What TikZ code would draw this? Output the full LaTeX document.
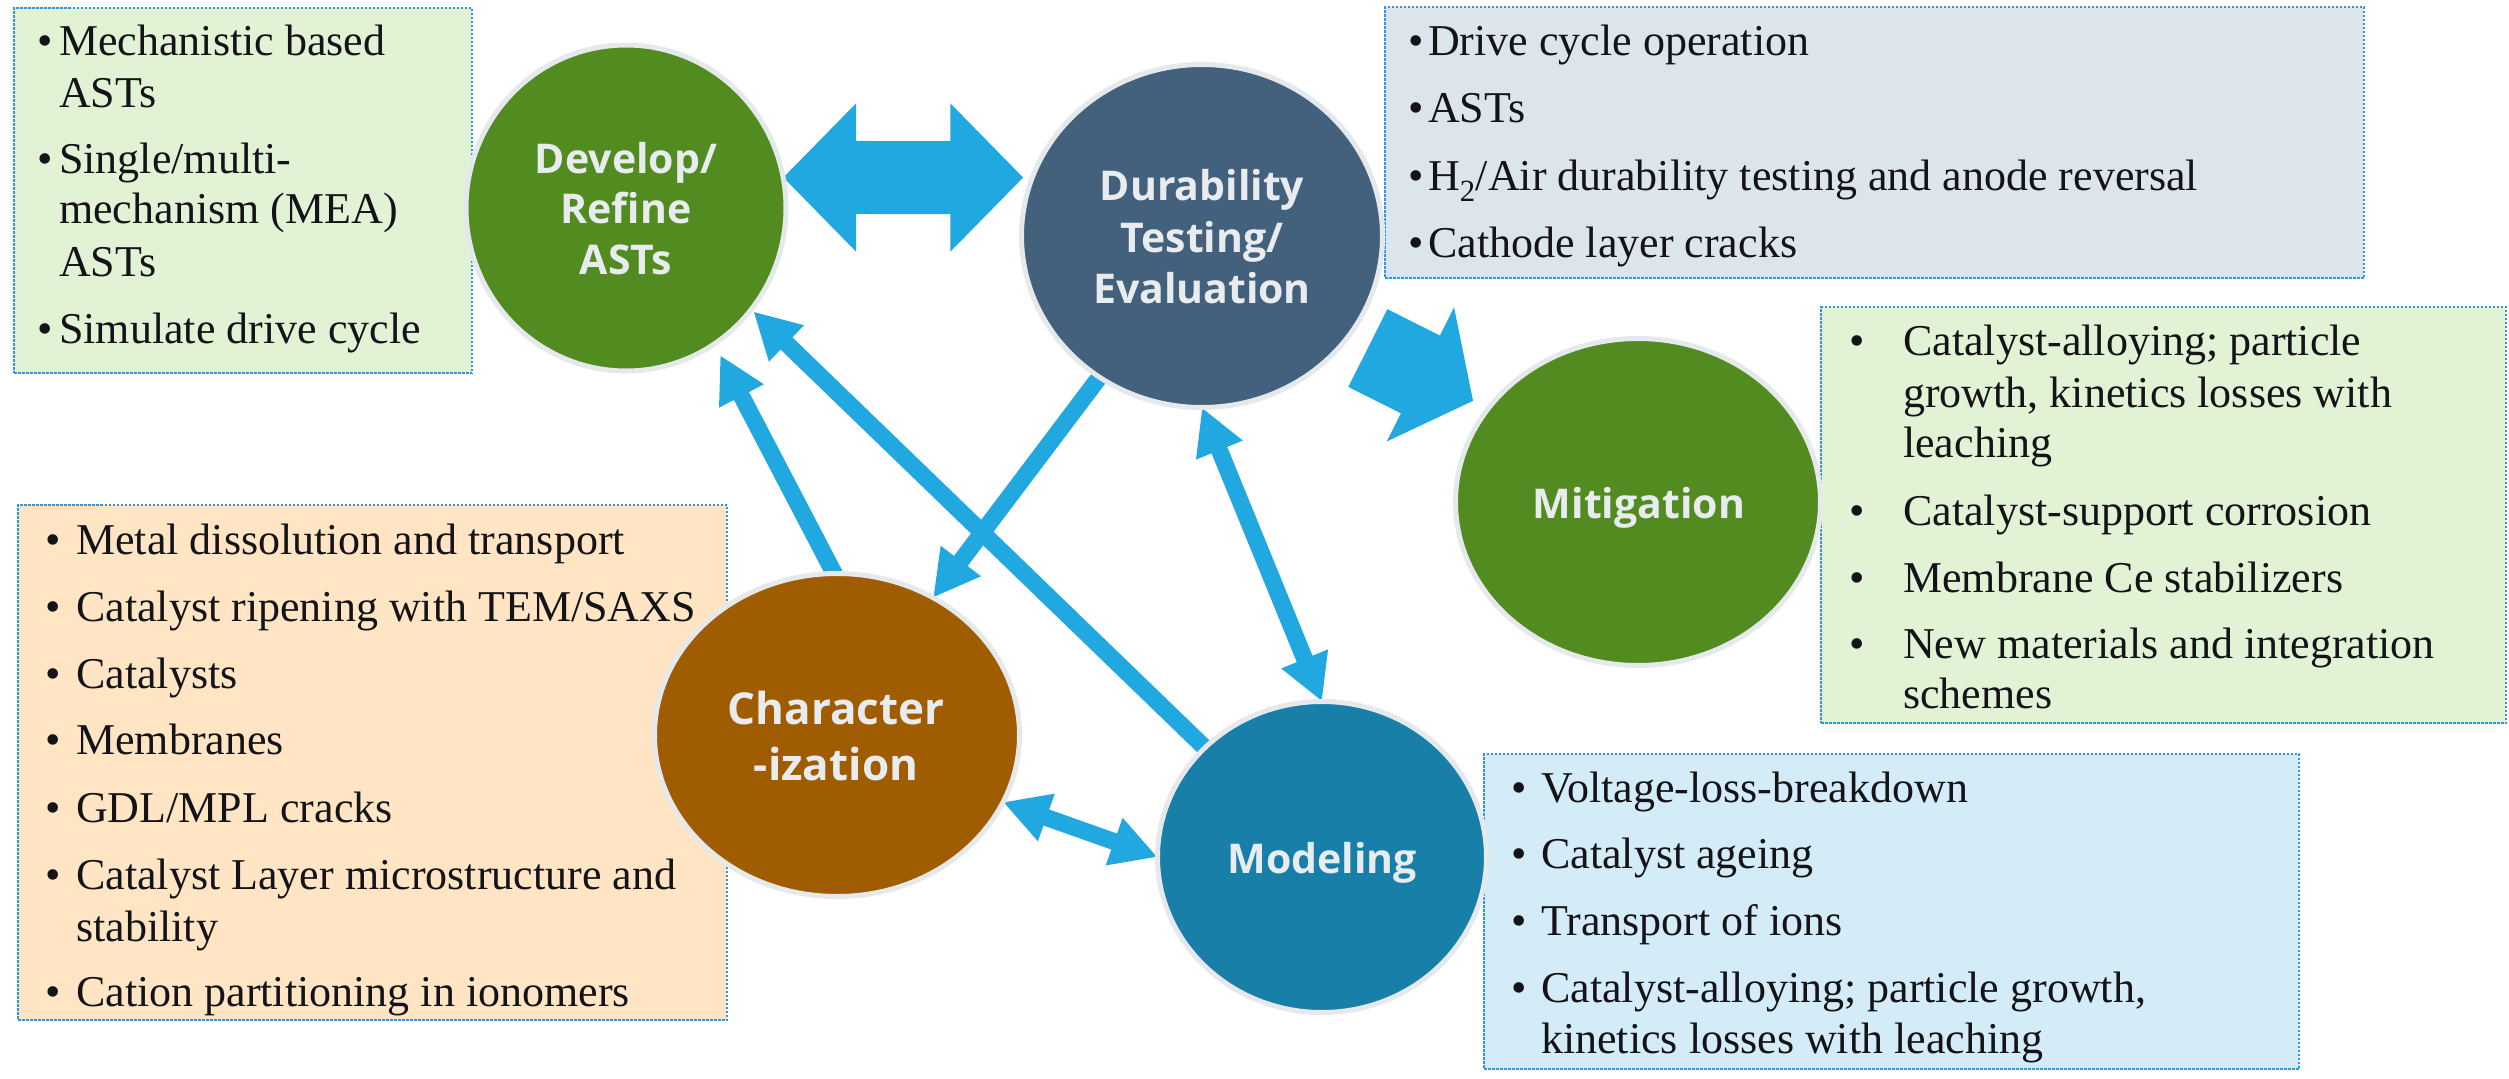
\documentclass[tikz,border=0pt]{standalone}
\usepackage{fontspec}
\setmainfont{Liberation Serif}
\newfontfamily\hubfont{Open Sans}
\usetikzlibrary{shapes.geometric,arrows.meta}
\pgfdeclarelayer{bg}
\pgfsetlayers{bg,main}
\definecolor{arr}{RGB}{33,168,224}
\definecolor{cgreen}{RGB}{82,140,32}
\definecolor{cslate}{RGB}{67,96,125}
\definecolor{cbrown}{RGB}{160,92,0}
\definecolor{cteal}{RGB}{24,128,168}
\definecolor{cring}{RGB}{230,233,235}
\definecolor{ctext}{RGB}{232,236,238}
\definecolor{bgreen}{RGB}{226,242,213}
\definecolor{bgrey}{RGB}{221,229,236}
\definecolor{bpeach}{RGB}{255,229,196}
\definecolor{bblue}{RGB}{211,236,248}
\definecolor{bborder}{RGB}{46,150,225}
\definecolor{itmtext}{RGB}{20,20,24}
\newcommand\bul[1]{\llap{\makebox[#1][l]{•}}}
\tikzset{
  hub/.style={ellipse, draw=cring, line width=5pt, inner sep=0pt, outer sep=0pt},
  hubtxt/.style={anchor=base, inner sep=0pt, text=ctext, font=\hubfont\bfseries\fontsize{41}{41}\selectfont},
  infobox/.style={rectangle, draw=bborder, line width=2.5pt, dash pattern=on 2.5pt off 1.5pt, inner sep=0pt, outer sep=0pt, anchor=north west},
  itm/.style={anchor=base west, inner sep=0pt, text=itmtext, font=\fontsize{44}{52}\selectfont},
  thinarr/.style={draw=arr, line width=17pt},
  tipone/.style={-{Triangle[length=46pt,width=47pt]}},
  tiptwo/.style={{Triangle[length=46pt,width=47pt]}-{Triangle[length=46pt,width=47pt]}},
}
\begin{document}
\begin{tikzpicture}[x=1pt,y=-1pt]
\useasboundingbox (0,0) rectangle (2509,1079);
% hubs
\node[hub, fill=cgreen, minimum width=320pt, minimum height=326pt] (dev) at (626,208) {};
\node[hub, fill=cslate, minimum width=361pt, minimum height=343pt] (dur) at (1202,236) {};
\node[hub, fill=cgreen, minimum width=365pt, minimum height=327pt] (mit) at (1638,502) {};
\node[hub, fill=cbrown, minimum width=365pt, minimum height=323pt] (chr) at (837,735) {};
\node[hub, fill=cteal, minimum width=329pt, minimum height=311pt] (mod) at (1322,857) {};
% hub labels
\node[hubtxt] (devt1) at (626,173) {Develop/};
\node[hubtxt] (devt2) at (626,223) {Refine};
\node[hubtxt] (devt3) at (626,274) {ASTs};
\node[hubtxt] (durt1) at (1202,200) {Durability};
\node[hubtxt] (durt2) at (1202,252) {Testing/};
\node[hubtxt] (durt3) at (1202,303) {Evaluation};
\node[hubtxt] (mitt) at (1639,518) {Mitigation};
\node[hubtxt] (modt) at (1322,873) {Modeling};
\node[hubtxt, font=\hubfont\bfseries\fontsize{44}{44}\selectfont] (chrt1) at (836,724) {Character};
\node[hubtxt, font=\hubfont\bfseries\fontsize{44}{44}\selectfont] (chrt2) at (836,780) {-ization};

\begin{pgfonlayer}{bg}
\fill[white] (0,0) rectangle (2509,1079);
% boxes
\node[infobox, fill=bgreen, minimum width=458pt, minimum height=365pt] (box1) at (14,8) {};
\node[infobox, fill=bgrey, minimum width=979pt, minimum height=271pt] (box2) at (1385,7) {};
\node[infobox, fill=bgreen, minimum width=685pt, minimum height=416pt] (box3) at (1821,307) {};
\node[infobox, fill=bpeach, minimum width=709pt, minimum height=515pt] (box4) at (18,505) {};
\node[infobox, fill=bblue, minimum width=815pt, minimum height=315pt] (box5) at (1484,754) {};
% connectors
\draw[thinarr, tipone, shorten <=-8pt, shorten >=12.7pt] (chr.91) -- (dev.-57.2);
\draw[thinarr, tipone, shorten <=-8pt, shorten >=3pt] (mod.137) -- (dev.-39);
\draw[thinarr, tipone, shorten <=-8pt] (dur.-126.4) -- (chr.55.8);
\draw[thinarr, tiptwo] (dur.-90) -- (mod.90);
\draw[thinarr, tiptwo] (chr.-22.4) -- (mod.180);
\draw[draw=arr, line width=73pt, {Triangle[length=73pt,width=144pt]}-{Triangle[length=73pt,width=144pt]}, shorten >=9pt] (dev.11) -- (dur.161);
\draw[draw=arr, line width=87pt, -{Triangle[length=59pt,width=147pt]}, shorten <=23pt, shorten >=17pt] (dur.-35.4) -- (mit.148.9);
\end{pgfonlayer}

% box 1 text
\node[itm] (a1) at (59,55) {\bul{22pt}Mechanistic based};
\node[itm] (a2) at (59,107) {ASTs};
\node[itm] (a3) at (59,173) {\bul{22pt}Single/multi-};
\node[itm] (a4) at (59,223) {mechanism (MEA)};
\node[itm] (a5) at (59,276) {ASTs};
\node[itm] (a6) at (59,343) {\bul{22pt}Simulate drive cycle};
% box 2 text
\node[itm] (b1) at (1428,55) {\bul{20pt}Drive cycle operation};
\node[itm] (b2) at (1428,122) {\bul{20pt}ASTs};
\node[itm] (b3) at (1428,190) {\bul{20pt}H\textsubscript{2}/Air durability testing and anode reversal};
\node[itm] (b4) at (1428,257) {\bul{20pt}Cathode layer cracks};
% box 3 text
\node[itm] (c1) at (1903,355) {\bul{54pt}Catalyst-alloying; particle};
\node[itm] (c2) at (1903,407) {growth, kinetics losses with};
\node[itm] (c3) at (1903,457) {leaching};
\node[itm] (c4) at (1903,525) {\bul{54pt}Catalyst-support corrosion};
\node[itm] (c5) at (1903,592) {\bul{54pt}Membrane Ce stabilizers};
\node[itm] (c6) at (1903,658) {\bul{54pt}New materials and integration};
\node[itm] (c7) at (1903,708) {schemes};
% box 4 text
\node[itm] (d1) at (76,554) {\bul{31pt}Metal dissolution and transport};
\node[itm] (d2) at (76,621) {\bul{31pt}Catalyst ripening with TEM/SAXS};
\node[itm] (d3) at (76,688) {\bul{31pt}Catalysts};
\node[itm] (d4) at (76,754) {\bul{31pt}Membranes};
\node[itm] (d5) at (76,822) {\bul{31pt}GDL/MPL cracks};
\node[itm] (d6) at (76,889) {\bul{31pt}Catalyst Layer microstructure and};
\node[itm] (d7) at (76,941) {stability};
\node[itm] (d8) at (76,1006) {\bul{31pt}Cation partitioning in ionomers};
% box 5 text
\node[itm] (e1) at (1541,802) {\bul{30pt}Voltage-loss-breakdown};
\node[itm] (e2) at (1541,868) {\bul{30pt}Catalyst ageing};
\node[itm] (e3) at (1541,935) {\bul{30pt}Transport of ions};
\node[itm] (e4) at (1541,1002) {\bul{30pt}Catalyst-alloying; particle growth,};
\node[itm] (e5) at (1541,1053) {kinetics losses with leaching};
\end{tikzpicture}
\end{document}
